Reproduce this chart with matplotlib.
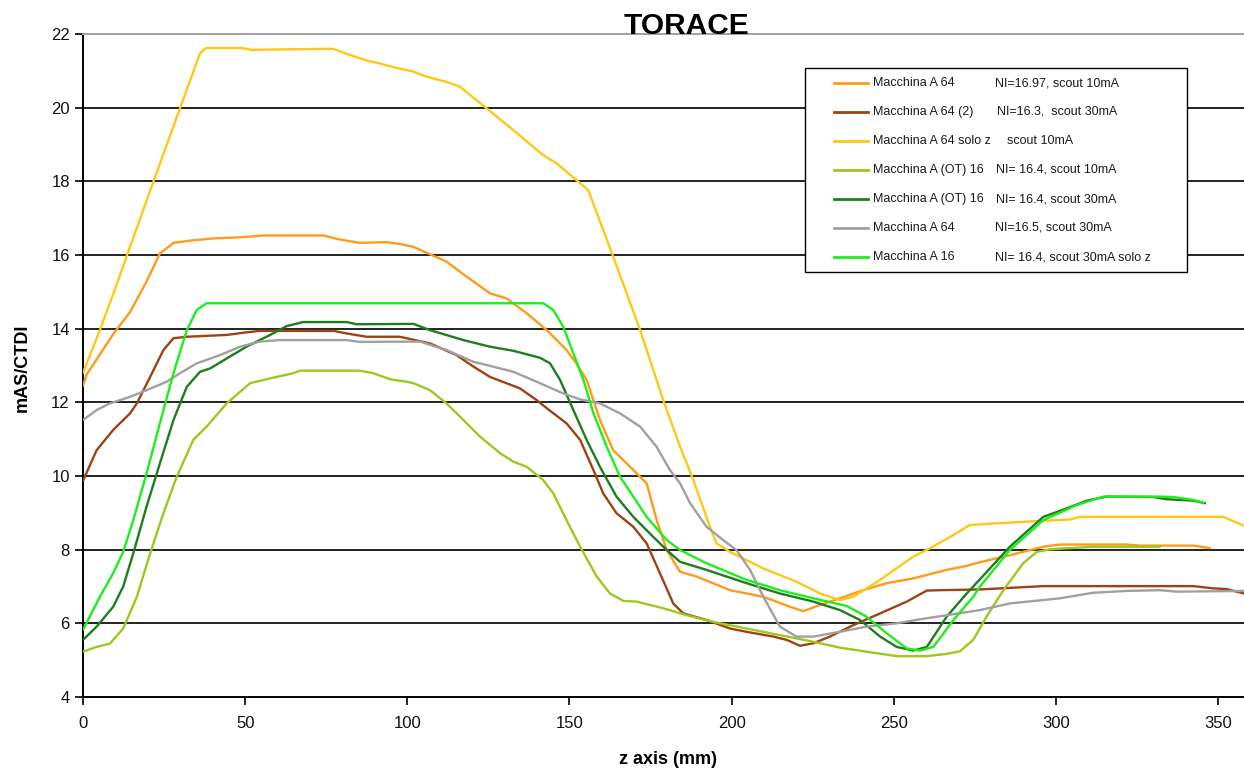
import matplotlib
matplotlib.use("Agg")
import matplotlib.pyplot as plt
from matplotlib.patches import Rectangle
from matplotlib.lines import Line2D

plt.rcParams['font.family'] = ['Liberation Sans', 'DejaVu Sans']

# ---- data: dose index per unit CTDI along the z axis ----
x_orange = [0, 1.1, 5.2, 9.3, 14.5, 19.6, 23.7, 27.9, 33, 40.2, 48.4, 55.6, 74.1, 79.2, 85.4, 93.6, 97.7,
            101.9, 112.1, 118.3, 125.5, 130.6, 136.8, 143, 149.1, 152.2, 155.3, 159.4, 163.5, 169.7, 173.8,
            176.9, 180, 184.1, 189.2, 199.5, 209.8, 218, 222.1, 227.3, 233.4, 240.6, 247.8, 256, 266.3,
            272.5, 276.6, 285.8, 296.1, 301.3, 321.8, 325.9, 342.4, 347.5]
y_orange = [12.45, 12.75, 13.3, 13.85, 14.45, 15.28, 16.04, 16.33, 16.39, 16.45, 16.48, 16.53, 16.53, 16.42,
            16.33, 16.35, 16.3, 16.22, 15.82, 15.41, 14.96, 14.82, 14.42, 13.96, 13.42, 13.05, 12.61, 11.52,
            10.70, 10.16, 9.80, 8.80, 7.99, 7.40, 7.27, 6.90, 6.72, 6.45, 6.33, 6.50, 6.68, 6.90, 7.09, 7.22,
            7.45, 7.56, 7.66, 7.85, 8.08, 8.14, 8.14, 8.11, 8.11, 8.04]

x_brown = [0, 4.2, 9.3, 14.5, 16.6, 20.7, 24.8, 27.9, 32, 44.3, 50.4, 54.6, 77.2, 81.3, 87.5, 97.7, 107,
           115.2, 120.4, 125.5, 134.7, 139.9, 143, 149.1, 153.3, 157.4, 160.4, 164.5, 169.7, 173.8, 177.9,
           182, 185.1, 192.3, 199.5, 204.6, 212.9, 217, 221.1, 225.2, 230.3, 237.5, 245.8, 254, 260.2,
           264.3, 276.6, 296.1, 342.4, 348.5, 352.6, 358]
y_brown = [9.87, 10.70, 11.25, 11.70, 11.97, 12.69, 13.42, 13.74, 13.78, 13.83, 13.90, 13.94, 13.94, 13.87,
           13.78, 13.78, 13.60, 13.28, 12.97, 12.69, 12.38, 12.06, 11.84, 11.43, 10.98, 10.16, 9.53, 8.99,
           8.62, 8.17, 7.36, 6.54, 6.27, 6.09, 5.86, 5.77, 5.64, 5.55, 5.39, 5.46, 5.64, 5.95, 6.27, 6.59,
           6.89, 6.90, 6.92, 7.01, 7.01, 6.95, 6.93, 6.81]

x_yellow = [0, 5.2, 10.4, 13.4, 21.7, 29.9, 36.1, 38, 49, 52, 77, 81.3, 87.5, 91.6, 95.7, 101.9, 106,
            112.1, 116.2, 124.5, 132.7, 141.9, 146, 153.3, 155.8, 163.5, 171.8, 178.9, 184.1, 188.2, 193.3,
            195.4, 199.5, 209.8, 220, 227.3, 233.4, 237.5, 245.8, 256, 261.2, 268.4, 273.5, 280.7, 291,
            304.3, 307.4, 351.6, 358]
y_yellow = [12.8, 13.96, 15.2, 15.95, 17.99, 19.98, 21.48, 21.62, 21.62, 21.57, 21.6, 21.46, 21.28, 21.2,
            21.1, 20.98, 20.84, 20.7, 20.57, 19.98, 19.39, 18.71, 18.49, 17.95, 17.76, 15.95, 13.96, 12.06,
            10.8, 9.89, 8.62, 8.17, 7.94, 7.49, 7.13, 6.81, 6.63, 6.72, 7.18, 7.81, 8.04, 8.40, 8.67, 8.71,
            8.76, 8.82, 8.89, 8.89, 8.65]

x_olive = [0, 4.2, 8.3, 12.4, 16.6, 20.7, 24.8, 28.9, 34, 38.1, 44.3, 51.5, 57.7, 64.8, 66.9, 85.4, 89.5,
           95, 99.8, 101.9, 107, 112.1, 117.3, 122.4, 128.6, 132.7, 136.8, 141.9, 145, 149.1, 153.3, 158.4,
           162.5, 166.6, 170.7, 178.9, 186.1, 194.3, 204.6, 214.9, 225.2, 233.4, 241.6, 250.9, 260.2,
           266.3, 270.4, 274.5, 278.6, 283.8, 289.9, 294.1, 298.2, 311.5, 332.1]
y_olive = [5.23, 5.36, 5.45, 5.86, 6.72, 7.90, 8.99, 9.98, 10.98, 11.34, 11.97, 12.52, 12.65, 12.79, 12.86,
           12.86, 12.79, 12.62, 12.56, 12.52, 12.33, 11.97, 11.52, 11.07, 10.62, 10.39, 10.25, 9.89, 9.53,
           8.80, 8.08, 7.27, 6.81, 6.61, 6.59, 6.41, 6.22, 6.04, 5.86, 5.68, 5.50, 5.34, 5.23, 5.11, 5.11,
           5.17, 5.24, 5.55, 6.18, 6.90, 7.63, 7.94, 8.01, 8.08, 8.08]

x_dkgreen = [0, 4.2, 9.3, 12.4, 15.5, 19.6, 23.7, 27.9, 32, 36.1, 39.2, 44.3, 50.4, 57.7, 62.8, 67.9, 81.3,
             84.4, 101.9, 107, 117.3, 125.5, 132.7, 140.9, 144, 147.1, 151.2, 155.3, 159.4, 164.5, 169.7,
             175.8, 180, 184.1, 192.3, 204.6, 214.9, 225.2, 233.4, 239.6, 245.8, 250.9, 256, 260.2, 266.3,
             272.5, 276.6, 285.8, 296.1, 303.3, 309.5, 315.6, 330, 334.1, 342.4, 346]
y_dkgreen = [5.55, 5.91, 6.45, 7.00, 7.90, 9.17, 10.34, 11.52, 12.42, 12.83, 12.92, 13.19, 13.51, 13.83,
             14.07, 14.18, 14.18, 14.12, 14.13, 13.96, 13.69, 13.51, 13.40, 13.21, 13.06, 12.61, 11.79, 10.98,
             10.25, 9.44, 8.89, 8.35, 7.99, 7.67, 7.45, 7.09, 6.81, 6.59, 6.36, 6.09, 5.64, 5.36, 5.26, 5.36,
             6.18, 6.81, 7.2, 8.08, 8.89, 9.12, 9.33, 9.44, 9.43, 9.37, 9.33, 9.26]

x_gray = [0, 4.2, 8.3, 14.5, 19.6, 25.8, 29.9, 35.1, 42.2, 48.4, 54.6, 60.7, 81.3, 85.4, 103.9, 112.1,
          120.4, 125.5, 132.7, 140.9, 148.1, 153.3, 159.4, 165.6, 171.8, 176.9, 181, 184.1, 187.2, 192.3,
          197.4, 201.5, 205.7, 209.8, 214.9, 220, 225.2, 233.4, 241.6, 250.9, 258.1, 266.3, 276.6, 285.8,
          301.3, 311.5, 321.8, 332.1, 337.2, 358]
y_gray = [11.52, 11.79, 11.97, 12.15, 12.33, 12.56, 12.79, 13.06, 13.28, 13.51, 13.65, 13.69, 13.69, 13.64,
          13.65, 13.42, 13.10, 12.99, 12.83, 12.52, 12.24, 12.08, 11.97, 11.70, 11.34, 10.79, 10.16, 9.8,
          9.26, 8.62, 8.26, 7.99, 7.45, 6.72, 5.91, 5.64, 5.64, 5.77, 5.91, 6.00, 6.11, 6.22, 6.36, 6.54,
          6.68, 6.83, 6.88, 6.90, 6.86, 6.88]

x_green = [0, 5.2, 9.3, 12.4, 15.5, 19.6, 23.7, 27.9, 32, 35.1, 38.1, 141.9, 145, 148.1, 151.2, 154.3,
           157.4, 161.5, 165.6, 169.7, 173.8, 180, 184.1, 192.3, 204.6, 214.9, 225.2, 235.5, 241.6, 247.8,
           254, 258.1, 262.2, 268.4, 274.5, 276.6, 285.8, 296.1, 306.4, 314.6, 332.1, 336.2, 342.4, 345.5]
y_green = [5.82, 6.72, 7.36, 7.94, 8.80, 10.07, 11.43, 12.79, 13.96, 14.51, 14.69, 14.69, 14.51, 14.05,
           13.33, 12.61, 11.70, 10.79, 9.98, 9.44, 8.89, 8.26, 7.99, 7.63, 7.18, 6.90, 6.68, 6.47, 6.18,
           5.73, 5.32, 5.26, 5.36, 6.09, 6.72, 7.00, 7.99, 8.80, 9.21, 9.44, 9.44, 9.43, 9.35, 9.27]

series_names = ["Macchina A 64", "Macchina A 64 (2)", "Macchina A 64 solo z", "Macchina A (OT) 16",
                "Macchina A (OT) 16", "Macchina A 64", "Macchina A 16"]
series_notes = ["NI=16.97, scout 10mA", "NI=16.3,  scout 30mA", "scout 10mA", "NI= 16.4, scout 10mA",
                "NI= 16.4, scout 30mA", "NI=16.5, scout 30mA", "NI= 16.4, scout 30mA solo z"]
series_colors = ["#FF9A1A", "#9E4216", "#FFC814", "#9DC81E", "#1E7D1E", "#A0A0A0", "#1EEE1E"]
series_x = [x_orange, x_brown, x_yellow, x_olive, x_dkgreen, x_gray, x_green]
series_y = [y_orange, y_brown, y_yellow, y_olive, y_dkgreen, y_gray, y_green]

x_ticks = [0, 50, 100, 150, 200, 250, 300, 350]
y_ticks = [4, 6, 8, 10, 12, 14, 16, 18, 20, 22]

# ---- figure ----
W, H = 1244, 771
fig = plt.figure(figsize=(W / 100, H / 100), dpi=100)
ax_l, ax_r, ax_t, ax_b = 83, 1250.5, 34, 697
ax = fig.add_axes([ax_l / W, 1 - ax_b / H, (ax_r - ax_l) / W, (ax_b - ax_t) / H])
ax.set_xlim(0, 360)
ax.set_ylim(4, 22)

for g in y_ticks[1:-1]:
    ax.axhline(g, color="#222222", lw=1.4, zorder=1)

for xs, ys, c in zip(series_x, series_y, series_colors):
    ax.plot(xs, ys, color=c, lw=1.7, solid_joinstyle="round", solid_capstyle="round", zorder=3)

ax.set_xticks(x_ticks)
ax.set_yticks(y_ticks)
ax.tick_params(axis="both", labelsize=12, direction="out", length=6, width=1.2, color="black")
ax.tick_params(axis="x", pad=8)
for lab in ax.get_xticklabels() + ax.get_yticklabels():
    lab.set_color("#111111")

ax.spines["left"].set_linewidth(1.4)
ax.spines["bottom"].set_linewidth(1.4)
ax.spines["top"].set_color("#a0a0a0")
ax.spines["top"].set_linewidth(1.4)
ax.spines["right"].set_visible(False)

fig.text(686 / W, 1 - 26 / H, "TORACE", ha="center", va="center", fontsize=21.5, fontweight="bold")
fig.text(22 / W, 1 - 368 / H, "mAS/CTDI", rotation=90, ha="center", va="center", fontsize=13,
         fontweight="bold")
fig.text(668 / W, 1 - 760 / H, "z axis (mm)", ha="center", va="center", fontsize=13, fontweight="bold")


# ---- legend box (pixel layout converted to axes fraction) ----
def to_axes(px, py):
    return (px - ax_l) / (ax_r - ax_l), (ax_b - py) / (ax_b - ax_t)


bx0, by0 = to_axes(805, 272)
bx1, by1 = to_axes(1187, 68)
ax.add_patch(Rectangle((bx0, by0), bx1 - bx0, by1 - by0, transform=ax.transAxes, facecolor="white",
                       edgecolor="black", lw=1.0, zorder=5, clip_on=False))
note_x = [995, 997, 1007, 996, 996, 995, 995]
for i, (name, note, c) in enumerate(zip(series_names, series_notes, series_colors)):
    ry = 83 + 29 * i
    x0, yy = to_axes(834, ry)
    x1, _ = to_axes(868, ry)
    ax.add_line(Line2D([x0, x1], [yy, yy], transform=ax.transAxes, color=c, lw=2.0, zorder=6,
                       clip_on=False))
    tx, _ = to_axes(873, ry)
    ax.text(tx, yy, name, transform=ax.transAxes, fontsize=9, va="center", ha="left", zorder=6,
            color="#1a1a1a")
    nx, _ = to_axes(note_x[i], ry)
    ax.text(nx, yy, note, transform=ax.transAxes, fontsize=9, va="center", ha="left", zorder=6,
            color="#1a1a1a")

fig.savefig("out.png", dpi=100, facecolor="white")
